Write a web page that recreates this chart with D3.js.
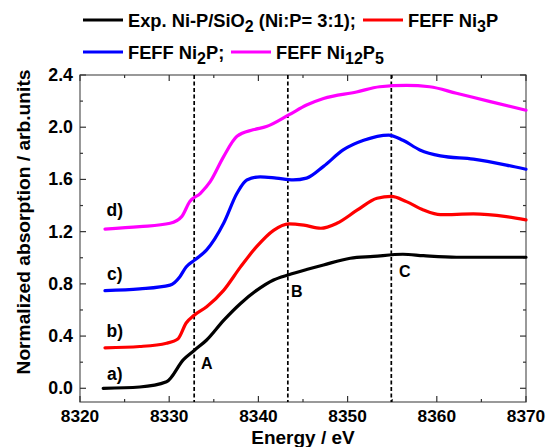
<!DOCTYPE html>
<html><head><meta charset="utf-8">
<script src="https://cdn.jsdelivr.net/npm/d3@7"></script>
<style>body{margin:0;background:#fff}svg{display:block}text{font-family:"Liberation Sans",Arial,sans-serif;font-weight:bold}</style>
</head><body><svg id="c" width="547" height="447"></svg>
<script>
const expX  = [8322.6,8326.7,8329.7,8331.6,8332.8,8334.2,8336.1,8338,8339.8,8341.7,8343.4,8345.4,8347.3,8350.3,8352.9,8356.2,8358.5,8362.2,8370];
const expY  = [0.0,0.01,0.05,0.22,0.29,0.37,0.52,0.65,0.75,0.83,0.87,0.91,0.945,0.996,1.01,1.027,1.016,1.004,1.004];
const ni3pX = [8322.8,8326.7,8329.7,8331,8331.9,8332.8,8334.2,8336.1,8338,8339.8,8341.7,8343.4,8345.1,8347,8348.8,8351.1,8353.3,8354.9,8356.6,8358.5,8360.4,8364.1,8367.8,8370];
const ni3pY = [0.31,0.32,0.345,0.38,0.50,0.56,0.625,0.75,0.93,1.085,1.21,1.26,1.25,1.226,1.264,1.366,1.456,1.47,1.43,1.366,1.33,1.336,1.315,1.29];
const ni2pX = [8322.8,8326.7,8330.1,8331.2,8331.9,8332.8,8334.2,8336.1,8337.6,8338.7,8340.2,8342,8343.9,8345.4,8347.3,8349.5,8351.8,8354.6,8356.2,8358.1,8360.4,8364.1,8367.8,8370];
const ni2pY = [0.748,0.761,0.79,0.855,0.93,0.98,1.06,1.264,1.494,1.596,1.62,1.61,1.596,1.61,1.70,1.826,1.90,1.94,1.90,1.826,1.78,1.755,1.71,1.678];
const ni12X = [8322.8,8326.7,8330.1,8331.4,8332.3,8333.5,8334.6,8336.1,8337.6,8339.4,8340.9,8343.4,8345.4,8347.3,8351,8353.6,8356.6,8359.2,8362.2,8366,8370];
const ni12Y = [1.22,1.238,1.264,1.315,1.43,1.494,1.583,1.775,1.93,1.98,2.005,2.094,2.17,2.22,2.27,2.31,2.32,2.31,2.26,2.196,2.13];
const xTicks = [8320,8330,8340,8350,8360,8370];
const yTicks = [0.0,0.4,0.8,1.2,1.6,2.0,2.4];
const markerX = [8332.8,8343.3,8354.9];
const markerLabels = ["A","B","C"];
const curveLabels = ["a)","b)","c)","d)"];
const colors = ["#000000","#ff0000","#0000ff","#ff00ff"];

const svg = d3.select("#c");
const L=80,R=526,T=75,B=402;
const x = d3.scaleLinear().domain([8320,8370]).range([L,R]);
const y = d3.scaleLinear().domain([-0.105,2.4]).range([B,T]);

const series = [[expX,expY],[ni3pX,ni3pY],[ni2pX,ni2pY],[ni12X,ni12Y]];

// frame
svg.append("rect").attr("x",L).attr("y",T).attr("width",R-L).attr("height",B-T)
  .attr("fill","none").attr("stroke","#555").attr("stroke-width",1.2);

// ticks
const xMinor = d3.range(8325,8370,10);
const yMinor = d3.range(0.2,2.4,0.4);
const tk = svg.append("g").attr("stroke","#333").attr("stroke-width",1.2);
xTicks.forEach(v=>{tk.append("line").attr("x1",x(v)).attr("x2",x(v)).attr("y1",B).attr("y2",B-6);
  tk.append("line").attr("x1",x(v)).attr("x2",x(v)).attr("y1",T).attr("y2",T+6);});
xMinor.forEach(v=>{tk.append("line").attr("x1",x(v)).attr("x2",x(v)).attr("y1",B).attr("y2",B-3);
  tk.append("line").attr("x1",x(v)).attr("x2",x(v)).attr("y1",T).attr("y2",T+3);});
yTicks.forEach(v=>{tk.append("line").attr("y1",y(v)).attr("y2",y(v)).attr("x1",L).attr("x2",L+6);
  tk.append("line").attr("y1",y(v)).attr("y2",y(v)).attr("x1",R).attr("x2",R-6);});
yMinor.forEach(v=>{tk.append("line").attr("y1",y(v)).attr("y2",y(v)).attr("x1",L).attr("x2",L+3);
  tk.append("line").attr("y1",y(v)).attr("y2",y(v)).attr("x1",R).attr("x2",R-3);});

// tick labels
xTicks.forEach(v=>svg.append("text").attr("x",x(v)).attr("y",B+20).attr("text-anchor","middle")
  .attr("font-size",17.3).text(v));
yTicks.forEach(v=>svg.append("text").attr("x",L-7).attr("y",y(v)+6).attr("text-anchor","end")
  .attr("font-size",17.8).text(v.toFixed(1)));

// axis titles
svg.append("text").attr("x",x(8345)).attr("y",444).attr("text-anchor","middle").attr("font-size",19).text("Energy / eV");
svg.append("text").attr("transform",`translate(30,222) rotate(-90)`).attr("text-anchor","middle")
  .attr("font-size",19.2).text("Normalized absorption / arb.units");

// dashed markers
markerX.forEach((v,i)=>{
  svg.append("line").attr("x1",x(v)).attr("x2",x(v)).attr("y1",T).attr("y2",B)
    .attr("stroke","#000").attr("stroke-width",1.7).attr("stroke-dasharray","4,2.5");
});
const mlab = [[8334.2,0.148],[8344.3,0.70],[8356.4,0.853]];
markerLabels.forEach((t,i)=>svg.append("text").attr("x",x(mlab[i][0])).attr("y",y(mlab[i][1])).attr("text-anchor","middle")
  .attr("font-size",16).text(t));

// curves
const line = d3.line().curve(d3.curveMonotoneX);
series.forEach((s,i)=>{
  const pts = s[0].map((v,j)=>[x(v),y(s[1][j])]);
  svg.append("path").attr("d",line(pts)).attr("fill","none").attr("stroke",colors[i]).attr("stroke-width",3.2)
    .attr("stroke-linejoin","round").attr("stroke-linecap","round");
});

// curve labels
const clab = [0.064,0.395,0.83,1.32];
curveLabels.forEach((t,i)=>svg.append("text").attr("x",x(8323.9)).attr("y",y(clab[i])).attr("text-anchor","middle")
  .attr("font-size",17.5).text(t));

// legend
function legendItem(lx,ly,color,parts){
  svg.append("line").attr("x1",lx).attr("x2",lx+40).attr("y1",ly).attr("y2",ly).attr("stroke",color).attr("stroke-width",3.2);
  const t = svg.append("text").attr("x",lx+45).attr("y",ly+7).attr("font-size",18.3).attr("xml:space","preserve");
  parts.forEach(p=>{
    const ts = t.append("tspan").text(p[0]);
    if(p[1]) ts.attr("dy",5).attr("font-size",16);
    if(p[2]) ts.attr("dy",-5);
  });
}
legendItem(83,20,colors[0],[["Exp. Ni-P/SiO"],["2",true],[" (Ni:P= 3:1);",false,true]]);
legendItem(363,20,colors[1],[["FEFF Ni"],["3",true],["P",false,true]]);
legendItem(83,52,colors[2],[["FEFF Ni"],["2",true],["P;",false,true]]);
legendItem(231,52,colors[3],[["FEFF Ni"],["12",true],["P",false,true],["5",true]]);
</script></body></html>
